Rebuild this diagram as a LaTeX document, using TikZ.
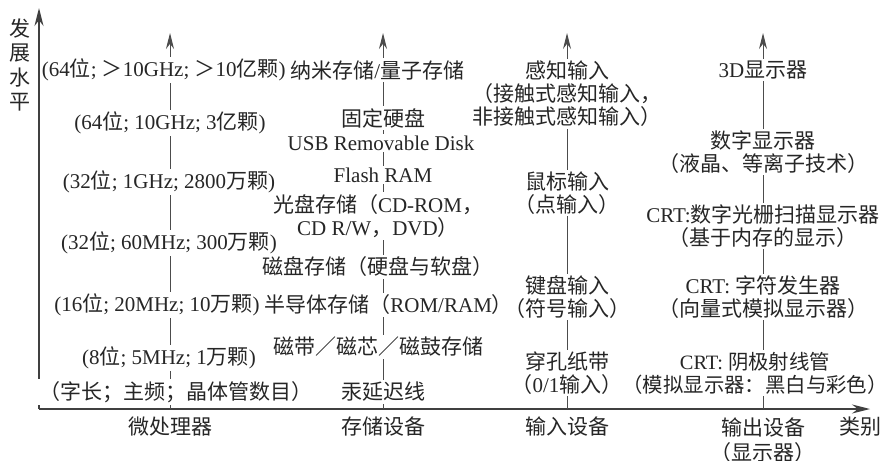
\documentclass[tikz,border=0pt]{standalone}
\usepackage{fontspec}
\setmainfont{Liberation Serif}
\newfontfamily\cjk{Noto Sans CJK SC}
\usetikzlibrary{arrows.meta,positioning}

% Han characters and full-width punctuation go to the CJK font
\XeTeXinterchartokenstate=1
\newXeTeXintercharclass\hanclass
\newcount\hancode
\def\sethan#1#2{\hancode=#1
  \loop\XeTeXcharclass\hancode=\hanclass
  \ifnum\hancode<#2 \advance\hancode by 1 \repeat}
\sethan{"3000}{"303F}
\sethan{"4E00}{"9FFF}
\sethan{"FF00}{"FFEF}
\XeTeXinterchartoks 0 \hanclass = {\cjk}
\XeTeXinterchartoks 4095 \hanclass = {\cjk}
\XeTeXinterchartoks \hanclass 0 = {\rmfamily}
\XeTeXinterchartoks \hanclass 4095 = {\rmfamily}

\tikzset{axis/.style={
            line width=0.8pt,
            black!75,
            -{Stealth[length=9pt,width=4.5pt]}},
        column/.style={
            line width=0.5pt,
            black!70,
            -{Stealth[length=8pt,width=4pt]}},
        entry/.style={
            fill=white,
            inner sep=1pt,
            align=center,
            text=black!85,
            font=\fontsize{10.5}{11.5}\selectfont},
        kind/.style={
            inner sep=1pt,
            align=center,
            text=black!85,
            font=\fontsize{10.5}{12.2}\selectfont}
    }

\begin{document}
\begin{tikzpicture}[x=0.5pt,y=-0.5pt]
        \useasboundingbox (0,0) rectangle (886,460);
        % axes
        \coordinate (origin) at (39,409);
        \coordinate (ytip) at (39,8);
        \coordinate (xtip) at (870,409);
        \draw[axis] (origin) -- (ytip);
        \draw[axis] (origin) -- (xtip);
        % one upward line per kind of device
        \coordinate (mpfoot) at (170,409);
        \coordinate (mptip) at (170,33);
        \coordinate (stfoot) at (383,409);
        \coordinate (sttip) at (383,33);
        \coordinate (infoot) at (567,409);
        \coordinate (intip) at (567,33);
        \coordinate (outfoot) at (763,409);
        \coordinate (outtip) at (763,33);
        \draw[column] (mpfoot) -- (mptip);
        \draw[column] (stfoot) -- (sttip);
        \draw[column] (infoot) -- (intip);
        \draw[column] (outfoot) -- (outtip);
        % storage
        \node[entry] at (383,392) (st1) {汞延迟线};
        \node[entry] at (378,347) (st2) {磁带／磁芯／磁鼓存储};
        \node[entry,anchor=west] at (262,305) (st3) {半导体存储（ROM/RAM）};
        \node[entry] at (378,267) (st4) {磁盘存储（硬盘与软盘）};
        \node[entry] at (378,216) (st5) {光盘存储（CD-ROM，\\CD R/W，DVD）};
        \node[entry] at (383,175) (st6) {Flash RAM};
        \node[entry] at (381,143) (st7) {USB Removable Disk};
        \node[entry] at (383,118) (st8) {固定硬盘};
        \node[entry,anchor=west] at (288,70) (st9) {纳米存储/量子存储};
        % microprocessor
        \node[entry] at (176,392) (mp1) {（字长；主频；晶体管数目）};
        \node[entry] at (169,358) (mp2) {(8位; 5MHz; 1万颗)};
        \node[entry,anchor=east] at (262,305) (mp3) {(16位; 20MHz; 10万颗)};
        \node[entry] at (169,243) (mp4) {(32位; 60MHz; 300万颗)};
        \node[entry] at (169,182) (mp5) {(32位; 1GHz; 2800万颗)};
        \node[entry] at (170,123) (mp6) {(64位; 10GHz; 3亿颗)};
        \node[entry,anchor=east] at (288,70) (mp7) {(64位; ＞10GHz; ＞10亿颗)};
        % input
        \node[entry] at (567,373) (in1) {穿孔纸带\\（0/1输入）};
        \node[entry] at (567,297) (in2) {键盘输入\\（符号输入）};
        \node[entry] at (567,193) (in3) {鼠标输入\\（点输入）};
        \node[entry] at (567,94) (in4) {感知输入\\（接触式感知输入，\\非接触式感知输入）};
        % output
        \node[entry,inner xsep=0pt,font=\fontsize{10.2}{11.5}\selectfont] at (755,373) (out1) {CRT: 阴极射线管\\（模拟显示器：黑白与彩色）};
        \node[entry] at (763,297) (out2) {CRT: 字符发生器\\（向量式模拟显示器）};
        \node[entry] at (763,226) (out3) {CRT:数字光栅扫描显示器\\（基于内存的显示）};
        \node[entry] at (763,152) (out4) {数字显示器\\（液晶、等离子技术）};
        \node[entry] at (763,70) (out5) {3D显示器};
        % axis labels
        \node[kind] at (170,427) (mpname) {微处理器};
        \node[kind] at (383,427) (stname) {存储设备};
        \node[kind] at (567,427) (inname) {输入设备};
        \node[kind] at (763,440) (outname) {输出设备\\（显示器）};
        \node[kind] at (860,427) (kindname) {类别};
        \node[kind] at (20,65) (levelname) {发\\展\\水\\平};
    \end{tikzpicture}
\end{document}
